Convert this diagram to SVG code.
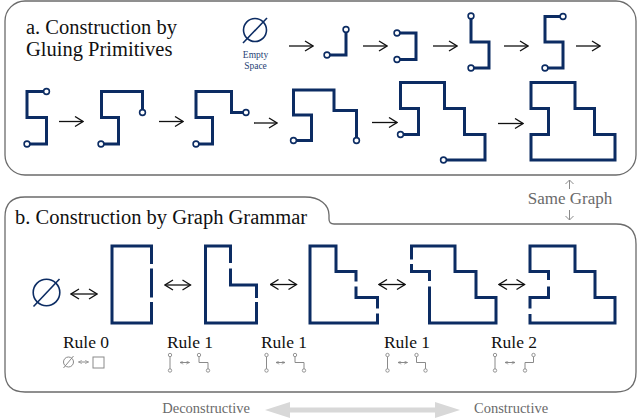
<svg xmlns="http://www.w3.org/2000/svg" width="639" height="420" viewBox="0 0 639 420" font-family="Liberation Serif, serif">
<defs>
<style>
.panel{fill:none;stroke:#6b6b6b;stroke-width:1.3}
.title{font-size:20.5px;fill:#111}
.rule{font-size:17.5px;fill:#111;text-anchor:middle}
.gtext{fill:#6a6a6a}
.shape{fill:none;stroke:#0c2c63;stroke-width:3;stroke-linejoin:miter;stroke-linecap:butt}
.port{fill:#fff;stroke:#0c2c63;stroke-width:1.6}
.empty{fill:none;stroke:#0c2c63;stroke-width:1.6}
.arr{fill:none;stroke:#111;stroke-width:1.3}
.ico{fill:none;stroke:#8a8a8a;stroke-width:1}
.icop{fill:#fff;stroke:#8a8a8a;stroke-width:0.9}
.garr{fill:none;stroke:#8a8a8a;stroke-width:1}
</style>
<marker id="ah" viewBox="0 0 10 12" refX="9" refY="6" markerWidth="10" markerHeight="12" markerUnits="userSpaceOnUse" orient="auto-start-reverse">
<path d="M1,1 L9,6 L1,11" fill="none" stroke="#111" stroke-width="1.3"/>
</marker>
<marker id="ahs" viewBox="0 0 6 6" refX="5.5" refY="3" markerWidth="4" markerHeight="4" markerUnits="userSpaceOnUse" orient="auto-start-reverse">
<path d="M0.5,0.5 L5.5,3 L0.5,5.5" fill="none" stroke="#8a8a8a" stroke-width="1"/>
</marker>
<marker id="ahg" viewBox="0 0 10 10" refX="5" refY="1" markerWidth="10" markerHeight="10" markerUnits="userSpaceOnUse" orient="0">
<path d="M1,5 L5,1 L9,5" fill="none" stroke="#8a8a8a" stroke-width="1"/>
</marker>
</defs>

<g id="panels">
<rect class="panel" x="5" y="1" width="631" height="174" rx="20" ry="20"/>
<path class="panel" d="M5,217 Q5,197 25,197 H305 C320,197 329,205 329,215 V219 Q329,224 334,224 H616 Q636,224 636,244 V372 Q636,392 616,392 H25 Q5,392 5,372 Z"/>
</g>

<g id="titles" font-family="Liberation Serif, serif">
<text class="title" x="26" y="33.5">a. Construction by</text>
<text class="title" x="26" y="55.5">Gluing Primitives</text>
<text class="title" x="15" y="224">b. Construction by Graph Grammar</text>
</g>

<g id="a-empty">
<circle class="empty" cx="255" cy="30" r="11.5"/>
<line class="empty" x1="267" y1="18" x2="243" y2="43"/>
<text x="255.5" y="57.5" text-anchor="middle" font-family="Liberation Serif, serif" font-size="9.5" fill="#1f3f75">Empty</text>
<text x="255.5" y="68.5" text-anchor="middle" font-family="Liberation Serif, serif" font-size="9.5" fill="#1f3f75">Space</text>
</g>

<g id="a-step1">
<path class="shape" d="M327,55 H346 V29.5"/>
<circle class="port" cx="327" cy="55" r="2.9"/><circle class="port" cx="346" cy="29.5" r="2.9"/>
</g>
<g id="a-step2">
<path class="shape" d="M397,33 H416 V59.5 H397"/>
<circle class="port" cx="397" cy="33" r="2.9"/><circle class="port" cx="397" cy="59.5" r="2.9"/>
</g>
<g id="a-step3">
<path class="shape" d="M471,16 V42 H489 V68 H471"/>
<circle class="port" cx="471" cy="16" r="2.9"/><circle class="port" cx="471" cy="68" r="2.9"/>
</g>
<g id="a-step4">
<path class="shape" d="M563,16.5 H545 V42 H563 V68 H545"/>
<circle class="port" cx="563" cy="16.5" r="2.9"/><circle class="port" cx="545" cy="68" r="2.9"/>
</g>
<g id="a-step5">
<path class="shape" d="M46.5,91.5 H27 V117.5 H46.5 V144 H27"/>
<circle class="port" cx="46.5" cy="91.5" r="2.9"/><circle class="port" cx="27" cy="144" r="2.9"/>
</g>
<g id="a-step6">
<path class="shape" d="M142.5,112.5 V91.5 H101.5 V117.5 H118.5 V144 H101"/>
<circle class="port" cx="142.5" cy="112.5" r="2.9"/><circle class="port" cx="101" cy="144" r="2.9"/>
</g>
<g id="a-step7">
<path class="shape" d="M246,112.5 H231.5 V91.5 H196 V117.5 H212.5 V144 H196"/>
<circle class="port" cx="246" cy="112.5" r="2.9"/><circle class="port" cx="196" cy="144" r="2.9"/>
</g>
<g id="a-step8">
<path class="shape" d="M356.5,140.5 V110.5 H334 V90 H293.5 V115 H311.5 V140.5 H293.5"/>
<circle class="port" cx="356.5" cy="140.5" r="2.9"/><circle class="port" cx="293.5" cy="140.5" r="2.9"/>
</g>
<g id="a-step9">
<path class="shape" d="M443.5,160 H485 V134.5 H464.5 V108.5 H444.5 V82.5 H400.5 V108.5 H418.5 V134.5 H400.5"/>
<circle class="port" cx="443.5" cy="160" r="2.9"/><circle class="port" cx="400.5" cy="134.5" r="2.9"/>
</g>
<g id="a-step10">
<path class="shape" d="M531,82.5 H575 V108.5 H594.5 V134.5 H615 V160 H531 V134.5 H548.5 V108.5 H531 Z"/>
</g>

<g id="same-graph">
<line class="garr" x1="569.5" y1="189" x2="569.5" y2="180" marker-end="url(#ahg)"/>
<line class="garr" x1="569.5" y1="210" x2="569.5" y2="220"/>
<path class="garr" d="M565.5,216 L569.5,220 L573.5,216"/>
<text class="gtext" x="570" y="203.5" text-anchor="middle" font-size="17" font-family="Liberation Serif, serif">Same Graph</text>
</g>

<g id="b-empty">
<circle class="empty" cx="46.5" cy="292.5" r="13.3"/>
<line class="empty" x1="59.5" y1="279" x2="33.5" y2="306.5"/>
</g>
<g id="b-rule0">
<path class="shape" d="M151.5,264 V246 H112 V323 H151.5 V302 M151.5,268.5 V297.5"/>
</g>
<g id="b-rule1a">
<path class="shape" d="M230.5,263 V246 H205.5 V323 H256.5 V302 M230.5,268.5 V285 H256.5 V298"/>
</g>
<g id="b-rule1b">
<path class="shape" d="M356,281.5 V271.5 H336 V246 H310 V323 H377.5 V313.5 M356,286.5 V297.5 H377.5 V308.5"/>
</g>
<g id="b-rule1c">
<path class="shape" d="M411.5,259.5 V246 H455 V271.5 H476 V297.5 H496 V323 H429.5 V286.5 M411.5,264 V271.5 H429.5 V281"/>
</g>
<g id="b-rule2">
<path class="shape" d="M548.5,280 V271.5 H530 V246 H575 V271.5 H595 V297.5 H615 V323 H530 V314 M548.5,286.5 V297.5 H530 V308.5"/>
</g>

<g id="connectors">
<line class="arr" x1="289" y1="46" x2="313" y2="46" marker-end="url(#ah)"/>
<line class="arr" x1="363" y1="46" x2="387" y2="46" marker-end="url(#ah)"/>
<line class="arr" x1="433" y1="46" x2="457" y2="46" marker-end="url(#ah)"/>
<line class="arr" x1="504" y1="46" x2="528" y2="46" marker-end="url(#ah)"/>
<line class="arr" x1="576" y1="46" x2="600" y2="46" marker-end="url(#ah)"/>
<line class="arr" x1="59" y1="121.5" x2="83" y2="121.5" marker-end="url(#ah)"/>
<line class="arr" x1="159" y1="121.5" x2="183" y2="121.5" marker-end="url(#ah)"/>
<line class="arr" x1="254" y1="123" x2="277" y2="123" marker-end="url(#ah)"/>
<line class="arr" x1="372" y1="122.5" x2="397" y2="122.5" marker-end="url(#ah)"/>
<line class="arr" x1="498" y1="123.5" x2="523" y2="123.5" marker-end="url(#ah)"/>
<line class="arr" x1="71" y1="294" x2="97" y2="294" marker-start="url(#ah)" marker-end="url(#ah)"/>
<line class="arr" x1="165" y1="285" x2="190.5" y2="285" marker-start="url(#ah)" marker-end="url(#ah)"/>
<line class="arr" x1="270.5" y1="284.5" x2="296.5" y2="284.5" marker-start="url(#ah)" marker-end="url(#ah)"/>
<line class="arr" x1="379" y1="284.5" x2="405" y2="284.5" marker-start="url(#ah)" marker-end="url(#ah)"/>
<line class="arr" x1="499" y1="284.5" x2="524.5" y2="284.5" marker-start="url(#ah)" marker-end="url(#ah)"/>
</g>

<g id="rule-labels" font-family="Liberation Serif, serif">
<text class="rule" x="86" y="347.5">Rule 0</text>
<text class="rule" x="190" y="347.5">Rule 1</text>
<text class="rule" x="284" y="347.5">Rule 1</text>
<text class="rule" x="407" y="347.5">Rule 1</text>
<text class="rule" x="514" y="347.5">Rule 2</text>
</g>

<g id="rule-icons">
<circle class="ico" cx="68.5" cy="362" r="5"/>
<line class="ico" x1="73.5" y1="356" x2="63.5" y2="368"/>
<line class="ico" x1="78.5" y1="362" x2="88.5" y2="362" marker-start="url(#ahs)" marker-end="url(#ahs)"/>
<rect class="ico" x="93" y="357" width="11" height="11"/>

<path class="ico" d="M170,355 V370.5"/><circle class="icop" cx="170" cy="355" r="1.7"/><circle class="icop" cx="170" cy="370.5" r="1.7"/>
<line class="ico" x1="180" y1="362.5" x2="189.5" y2="362.5" marker-start="url(#ahs)" marker-end="url(#ahs)"/>
<path class="ico" d="M199,355 V362.5 H208 V370.5"/><circle class="icop" cx="199" cy="355" r="1.7"/><circle class="icop" cx="208" cy="370.5" r="1.7"/>

<path class="ico" d="M266.5,355 V370.5"/><circle class="icop" cx="266.5" cy="355" r="1.7"/><circle class="icop" cx="266.5" cy="370.5" r="1.7"/>
<line class="ico" x1="276" y1="362.5" x2="285" y2="362.5" marker-start="url(#ahs)" marker-end="url(#ahs)"/>
<path class="ico" d="M295,355 V362.5 H304 V370.5"/><circle class="icop" cx="295" cy="355" r="1.7"/><circle class="icop" cx="304" cy="370.5" r="1.7"/>

<path class="ico" d="M387.5,355 V370.5"/><circle class="icop" cx="387.5" cy="355" r="1.7"/><circle class="icop" cx="387.5" cy="370.5" r="1.7"/>
<line class="ico" x1="398" y1="362.5" x2="407.5" y2="362.5" marker-start="url(#ahs)" marker-end="url(#ahs)"/>
<path class="ico" d="M416.5,355 V362.5 H425.5 V370.5"/><circle class="icop" cx="416.5" cy="355" r="1.7"/><circle class="icop" cx="425.5" cy="370.5" r="1.7"/>

<path class="ico" d="M495,355 V370.5"/><circle class="icop" cx="495" cy="355" r="1.7"/><circle class="icop" cx="495" cy="370.5" r="1.7"/>
<line class="ico" x1="505" y1="362.5" x2="515" y2="362.5" marker-start="url(#ahs)" marker-end="url(#ahs)"/>
<path class="ico" d="M533.5,355 V362.5 H525 V370.5"/><circle class="icop" cx="533.5" cy="355" r="1.7"/><circle class="icop" cx="525" cy="370.5" r="1.7"/>
</g>

<g id="direction" font-family="Liberation Serif, serif">
<polygon points="265,410 290,402 290,407.5 435,407.5 435,402 460,410 435,418 435,412.5 290,412.5 290,418" fill="#d8d8d8"/>
<text class="gtext" x="250" y="413" text-anchor="end" font-size="14.5">Deconstructive</text>
<text class="gtext" x="474" y="413" font-size="14.5">Constructive</text>
</g>
</svg>
